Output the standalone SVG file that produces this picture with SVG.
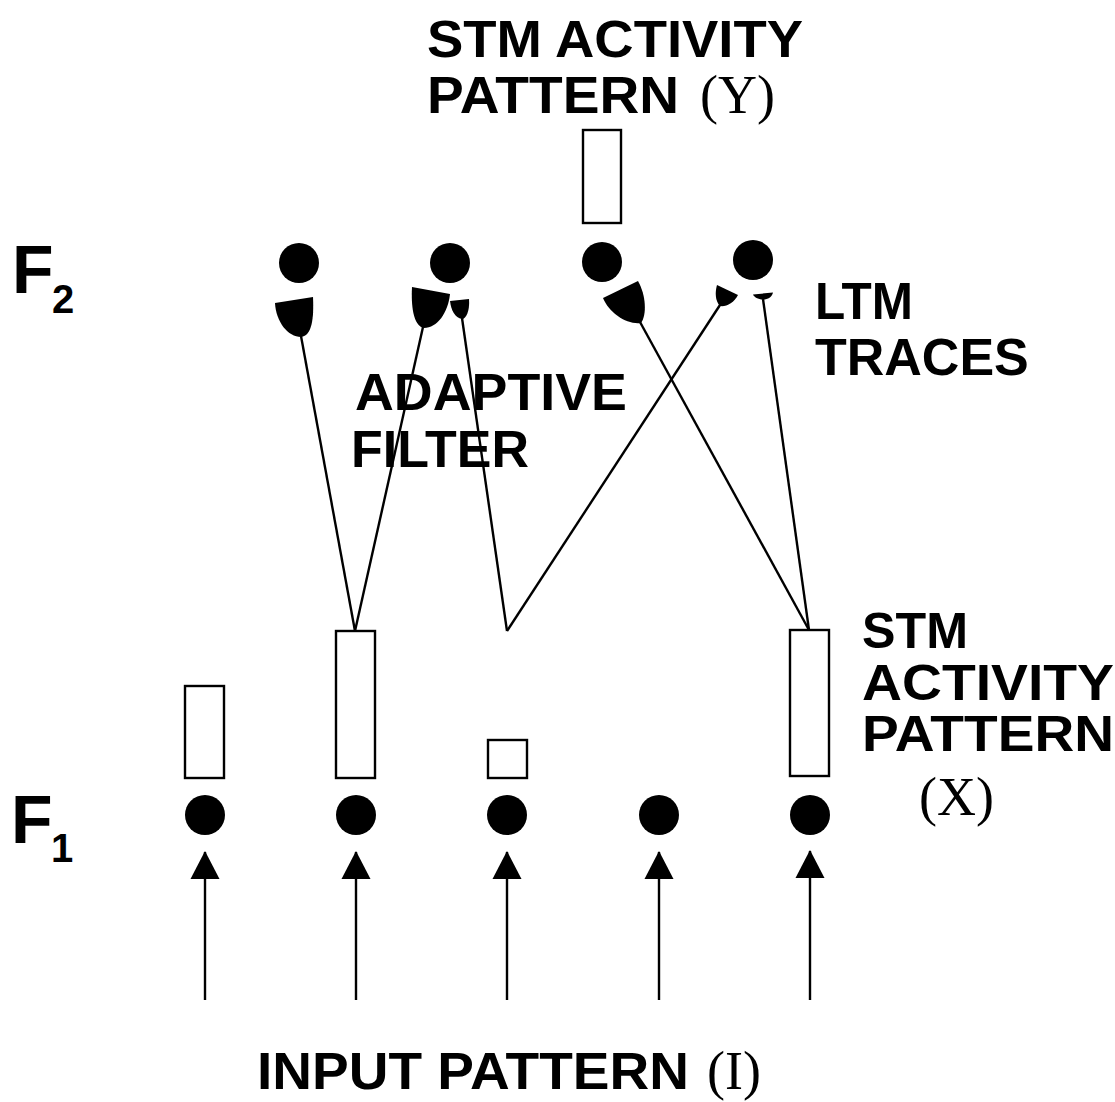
<svg xmlns="http://www.w3.org/2000/svg" width="1115" height="1102" viewBox="0 0 1115 1102">
<style>
.lbl{font-family:"Liberation Sans",Arial,sans-serif;font-weight:bold;font-size:52px;fill:#000}
.sm{font-size:50px}
.ser{font-family:"Liberation Serif","Times New Roman",serif;font-weight:normal;font-size:54px}
.cell{fill:#000}
.bar{fill:#fff;stroke:#000;stroke-width:2.4}
.trace{fill:#000}
.wire{stroke:#000;stroke-width:2.4;fill:none}
</style>
<defs>
<marker id="arr" viewBox="0 0 28 30" refX="27" refY="15" markerWidth="28" markerHeight="30" markerUnits="userSpaceOnUse" orient="auto">
<path d="M28,15 L0,0.5 L0,29.5 Z" fill="#000"/>
</marker>
</defs>
<rect width="1115" height="1102" fill="#fff"/>

<g id="labels">
<text class="lbl" x="427" y="57" textLength="376" lengthAdjust="spacingAndGlyphs">STM ACTIVITY</text>
<text class="lbl" x="427" y="113"><tspan textLength="252" lengthAdjust="spacingAndGlyphs">PATTERN</tspan><tspan class="ser" x="700">(Y)</tspan></text>
<text class="lbl" x="12" y="293" style="font-size:68px">F<tspan x="52" y="313" style="font-size:40px">2</tspan></text>
<text class="lbl" x="11" y="843" style="font-size:68px">F<tspan x="51" y="862" style="font-size:40px">1</tspan></text>
<text class="lbl" x="815" y="319" textLength="98" lengthAdjust="spacingAndGlyphs">LTM</text>
<text class="lbl" x="815" y="375">TRACES</text>
<text class="lbl" x="355" y="410" textLength="272" lengthAdjust="spacingAndGlyphs">ADAPTIVE</text>
<text class="lbl" x="351" y="467" textLength="178" lengthAdjust="spacingAndGlyphs">FILTER</text>
<text class="lbl sm" x="862" y="648" textLength="106" lengthAdjust="spacingAndGlyphs">STM</text>
<text class="lbl sm" x="862" y="700" textLength="252" lengthAdjust="spacingAndGlyphs">ACTIVITY</text>
<text class="lbl sm" x="862" y="751" textLength="252" lengthAdjust="spacingAndGlyphs">PATTERN</text>
<text class="lbl ser" x="919" y="815">(X)</text>
<text class="lbl" x="257" y="1089"><tspan textLength="432" lengthAdjust="spacingAndGlyphs">INPUT PATTERN</tspan><tspan class="ser" x="707">(I)</tspan></text>
</g>

<g id="connectors">
<line class="wire" x1="301" y1="336" x2="355" y2="631"/>
<line class="wire" x1="423" y1="327" x2="355" y2="631"/>
<line class="wire" x1="462" y1="318" x2="507" y2="631"/>
<line class="wire" x1="720" y1="305" x2="507" y2="631"/>
<line class="wire" x1="640" y1="322" x2="809" y2="630"/>
<line class="wire" x1="763" y1="299" x2="809" y2="630"/>
<line class="wire" x1="205" y1="1000" x2="205" y2="852" marker-end="url(#arr)"/>
<line class="wire" x1="356" y1="1000" x2="356" y2="852" marker-end="url(#arr)"/>
<line class="wire" x1="507" y1="1000" x2="507" y2="852" marker-end="url(#arr)"/>
<line class="wire" x1="659" y1="1000" x2="659" y2="852" marker-end="url(#arr)"/>
<line class="wire" x1="810" y1="1000" x2="810" y2="851" marker-end="url(#arr)"/>
</g>

<g id="f2-node-1"><circle class="cell" cx="299" cy="263" r="20"/>
<path class="trace" d="M275,303 L313,297 C314,318 312,336 301,337 C288,337 276,322 275,303 Z"/></g>
<g id="f2-node-2"><circle class="cell" cx="450" cy="263" r="20"/>
<path class="trace" d="M412,287 L450,294 C448,313 437,328 424,328 C413,326 411,305 412,287 Z"/>
<path class="trace" d="M450,301 L469,299 C470,311 466,319 462,319 C455,318 451,310 450,301 Z"/></g>
<g id="f2-node-3"><circle class="cell" cx="602" cy="262" r="20"/>
<rect class="bar" x="583" y="130" width="38" height="93"/>
<path class="trace" d="M603,298 L638,281 C646,295 647,315 641,323 C627,325 609,313 603,298 Z"/></g>
<g id="f2-node-4"><circle class="cell" cx="753" cy="260" r="20"/>
<path class="trace" d="M717,285 L738,295 C734,303 726,307 720,306 C715,301 715,292 717,285 Z"/>
<path class="trace" d="M753,294.5 L773,292.5 C772,297 768,299.5 763,299.5 C758,299.5 754,297 753,294.5 Z"/></g>

<g id="f1-node-1"><rect class="bar" x="185" y="686" width="39" height="92"/><ellipse class="cell" cx="205" cy="815" rx="20" ry="20"/></g>
<g id="f1-node-2"><rect class="bar" x="336" y="631" width="39" height="147"/><ellipse class="cell" cx="356" cy="815" rx="20" ry="20"/></g>
<g id="f1-node-3"><rect class="bar" x="488" y="740" width="39" height="38"/><ellipse class="cell" cx="507" cy="815" rx="20" ry="20"/></g>
<g id="f1-node-4"><ellipse class="cell" cx="659" cy="815" rx="20" ry="20"/></g>
<g id="f1-node-5"><rect class="bar" x="790" y="630" width="39" height="146"/><ellipse class="cell" cx="810" cy="815" rx="20" ry="20"/></g>
</svg>
